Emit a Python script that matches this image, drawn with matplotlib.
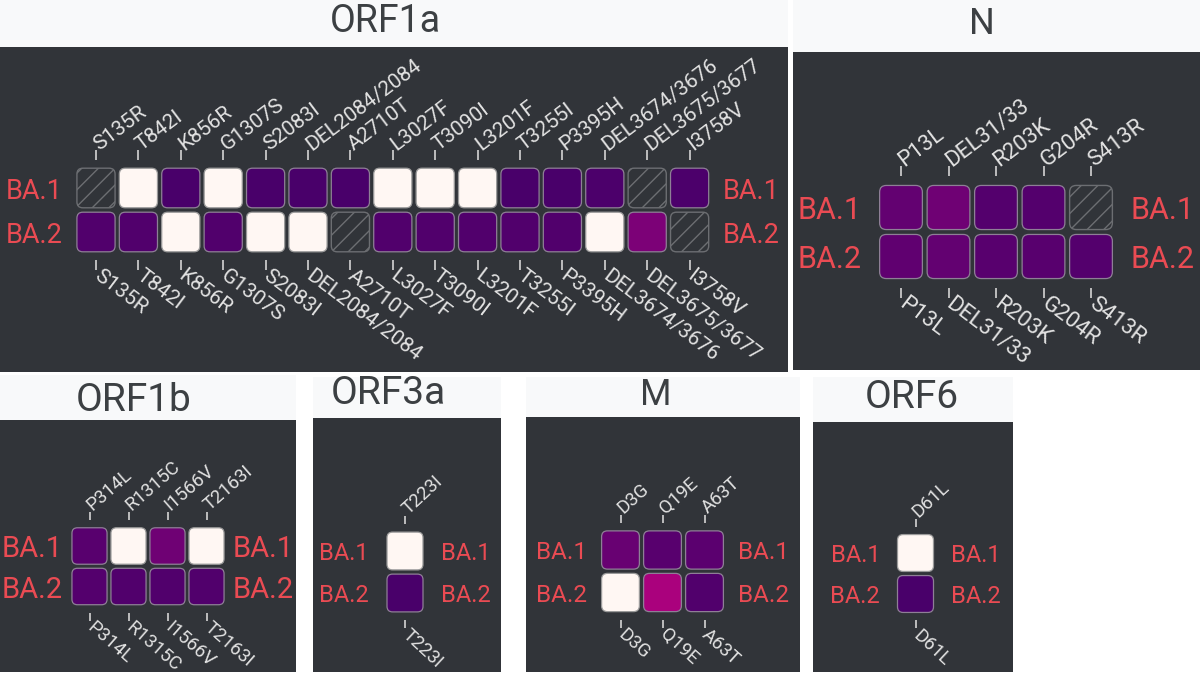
import numpy as np
import matplotlib
matplotlib.use("Agg")
import matplotlib.pyplot as plt
from matplotlib.patches import FancyBboxPatch

plt.rcParams['font.family'] = ['Roboto', 'DejaVu Sans']
plt.rcParams['hatch.linewidth'] = 1.0

nan = np.nan
rows = ['BA.1', 'BA.2']

# frequencies per mutation, NaN = no data (hatched)
orf1a_muts = ['S135R', 'T842I', 'K856R', 'G1307S', 'S2083I', 'DEL2084/2084', 'A2710T',
              'L3027F', 'T3090I', 'L3201F', 'T3255I', 'P3395H', 'DEL3674/3676',
              'DEL3675/3677', 'I3758V']
orf1a_ba1 = [nan, 0.0, 1.0, 0.0, 1.0, 1.0, 1.0, 0.0, 0.0, 0.0, 1.0, 1.0, 0.99, nan, 0.99]
orf1a_ba2 = [0.98, 0.98, 0.0, 0.98, 0.0, 0.0, nan, 0.98, 0.98, 0.98, 0.98, 0.98, 0.0, 0.87, nan]

n_muts = ['P13L', 'DEL31/33', 'R203K', 'G204R', 'S413R']
n_ba1 = [0.93, 0.90, 0.97, 0.97, nan]
n_ba2 = [0.94, 0.93, 0.96, 0.96, 0.97]

orf1b_muts = ['P314L', 'R1315C', 'I1566V', 'T2163I']
orf1b_ba1 = [0.96, 0.0, 0.90, 0.0]
orf1b_ba2 = [0.97, 0.98, 0.98, 0.98]

orf3a_muts = ['T223I']
orf3a_ba1 = [0.0]
orf3a_ba2 = [1.0]

m_muts = ['D3G', 'Q19E', 'A63T']
m_ba1 = [0.92, 0.96, 0.95]
m_ba2 = [0.0, 0.76, 0.98]

orf6_muts = ['D61L']
orf6_ba1 = [0.0]
orf6_ba2 = [1.0]

W, H = 1200, 674
BG = '#313439'
TITLE_BG = '#f8f9fa'
RED = '#ea4b53'
cmap = plt.get_cmap('RdPu')

fig = plt.figure(figsize=(W / 100, H / 100), dpi=100)
fig.patch.set_facecolor('white')


def frac(x0, y0, x1, y1):
    return [x0 / W, 1 - y1 / H, (x1 - x0) / W, (y1 - y0) / H]


# layout per panel (pixels)
panels = [
    dict(title='ORF1a', muts=orf1a_muts, vals=[orf1a_ba1, orf1a_ba2],
         tbox=(0, 0, 788, 47), bbox=(0, 47, 788, 372), txy=(385, 22), tsz=27,
         cx0=96, px=42.4, cy0=188, py=44, tfs=15, rfs=19.5, gap=8, tlen=7,
         rot=37, rpad=8.5),
    dict(title='N', muts=n_muts, vals=[n_ba1, n_ba2],
         tbox=(793, 0, 1200, 52), bbox=(793, 52, 1200, 370), txy=(982, 24), tsz=26,
         cx0=901, px=47.5, cy0=207.5, py=49, tfs=16, rfs=22, gap=9, tlen=7,
         rot=37, rpad=11),
    dict(title='ORF1b', muts=orf1b_muts, vals=[orf1b_ba1, orf1b_ba2],
         tbox=(0, 375, 296, 420), bbox=(0, 420, 296, 672), txy=(134, 401), tsz=28,
         cx0=89.5, px=39, cy0=546, py=40.5, tfs=13.5, rfs=21, gap=8, tlen=6,
         rot=41, rpad=5),
    dict(title='ORF3a', muts=orf3a_muts, vals=[orf3a_ba1, orf3a_ba2],
         tbox=(313, 377, 501, 418), bbox=(313, 418, 501, 672), txy=(388, 394), tsz=28,
         cx0=405, px=40, cy0=551, py=42, tfs=13.5, rfs=17, gap=8, tlen=6,
         rot=43, rpad=11.5),
    dict(title='M', muts=m_muts, vals=[m_ba1, m_ba2],
         tbox=(526, 377, 800, 417), bbox=(526, 417, 800, 672), txy=(656, 395), tsz=26,
         cx0=620.5, px=42, cy0=550, py=42.5, tfs=13.5, rfs=17.5, gap=8, tlen=6,
         rot=42, rpad=9),
    dict(title='ORF6', muts=orf6_muts, vals=[orf6_ba1, orf6_ba2],
         tbox=(813, 377, 1013, 422), bbox=(813, 422, 1013, 672), txy=(912, 398), tsz=28,
         cx0=915.5, px=40, cy0=553, py=41, tfs=13.5, rfs=17, gap=8, tlen=6,
         rot=43, rpad=11),
]

for p in panels:
    # title bar and dark body
    tax = fig.add_axes(frac(*p['tbox']))
    tax.set_facecolor(TITLE_BG)
    tax.set_xticks([]); tax.set_yticks([])
    for s in tax.spines.values():
        s.set_visible(False)
    bax = fig.add_axes(frac(*p['bbox']))
    bax.set_facecolor(BG)
    bax.set_xticks([]); bax.set_yticks([])
    for s in bax.spines.values():
        s.set_visible(False)
    fig.text(p['txy'][0] / W, 1 - p['txy'][1] / H, p['title'], ha='center', va='center',
             fontsize=p['tsz'], color='#3c4043')

    n = len(p['muts'])
    px, py, gap = p['px'], p['py'], p['gap']
    ext = 0.45 + gap / py
    x0 = p['cx0'] - 0.5 * px
    x1 = p['cx0'] + (n - 0.5) * px
    y0 = p['cy0'] - ext * py
    y1 = p['cy0'] + (1 + ext) * py
    ax = fig.add_axes(frac(x0, y0, x1, y1))
    ax.set_xlim(-0.5, n - 0.5)
    ax.set_ylim(1 + ext, -ext)
    ax.patch.set_alpha(0)
    for s in ax.spines.values():
        s.set_visible(False)

    cw = 0.9
    ch = 0.9
    for r, row_vals in enumerate(p['vals']):
        for c, v in enumerate(row_vals):
            if np.isnan(v):
                patch = FancyBboxPatch((c - cw / 2, r - ch / 2), cw, ch,
                                       boxstyle='round,pad=0,rounding_size=0.14',
                                       mutation_aspect=px / py,
                                       facecolor='none', edgecolor='#6c6e72',
                                       hatch='//', linewidth=1.0)
            else:
                col = cmap(v)
                edge = '#8e7f96' if v > 0.5 else '#9a9a9a'
                patch = FancyBboxPatch((c - cw / 2, r - ch / 2), cw, ch,
                                       boxstyle='round,pad=0,rounding_size=0.14',
                                       mutation_aspect=px / py,
                                       facecolor=col, edgecolor=edge, linewidth=0.9)
            ax.add_patch(patch)

    ax.set_xticks(range(n), p['muts'])
    ax.set_yticks([0, 1], rows)
    ax.tick_params(axis='x', top=True, bottom=True, labeltop=True, labelbottom=True,
                   length=p['tlen'], width=1.3, color='#c8c8c8', labelcolor='#e2e2e2',
                   labelsize=p['tfs'], pad=3)
    ax.tick_params(axis='y', left=False, right=False, labelleft=True, labelright=True,
                   length=0, labelcolor=RED, labelsize=p['rfs'], pad=p['rpad'])
    for t in ax.xaxis.get_major_ticks():
        t.label1.set_rotation(-p['rot'])
        t.label1.set_ha('left')
        t.label1.set_va('center')
        t.label1.set_rotation_mode('anchor')
        t.label2.set_rotation(p['rot'])
        t.label2.set_ha('left')
        t.label2.set_va('center')
        t.label2.set_rotation_mode('anchor')

fig.savefig('out.png', dpi=100, facecolor='white')
